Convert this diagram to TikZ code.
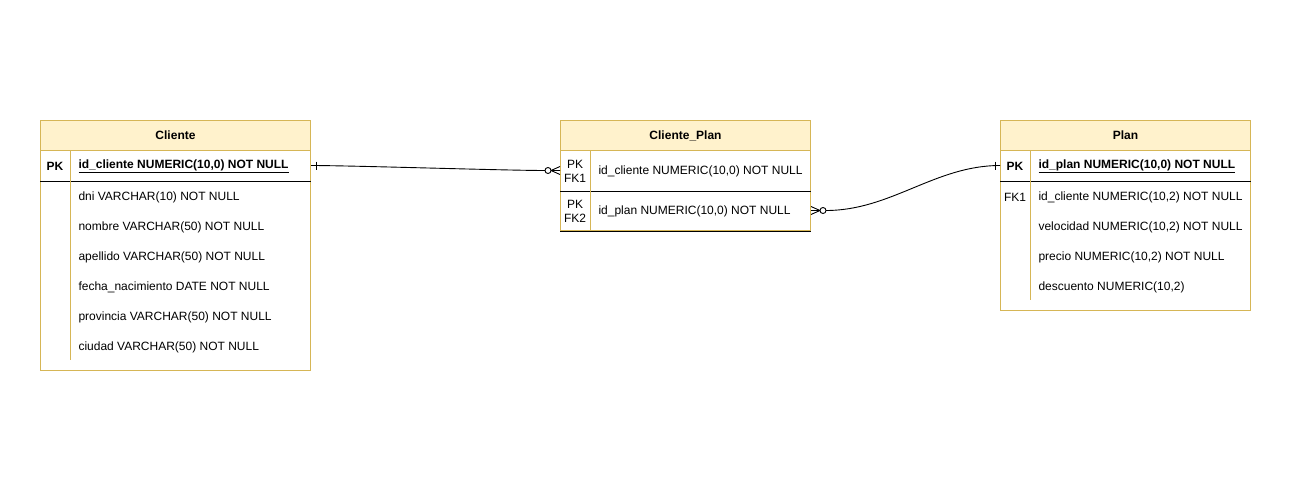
\documentclass[tikz,border=0pt]{standalone}
\usepackage{fontspec}
\setmainfont{Liberation Sans}
\usetikzlibrary{calc}
\definecolor{hdrfill}{HTML}{FFF2CC}
\definecolor{gold}{HTML}{D6B656}
\begin{document}
\begin{tikzpicture}[x=1pt,y=-1pt, line width=1pt,
  tbl/.style={draw=gold, fill=white, rectangle, inner sep=0pt, anchor=north west},
  hdr/.style={draw=gold, fill=hdrfill, rectangle, inner sep=0pt, anchor=north west, minimum height=30pt, font=\fontsize{12}{14}\selectfont\bfseries},
  rowbox/.style={rectangle, inner sep=0pt, anchor=north west},
  fld/.style={anchor=west, inner sep=0pt, yshift=-1pt, font=\fontsize{12}{14}\selectfont},
  fldb/.style={anchor=west, inner sep=0pt, yshift=-1pt, font=\fontsize{12}{14}\selectfont\bfseries},
  keyt/.style={anchor=center, inner sep=0pt, yshift=-1pt, align=center, font=\fontsize{12}{14}\selectfont},
  keyb/.style={anchor=center, inner sep=0pt, yshift=-1pt, align=center, font=\fontsize{12}{14}\selectfont\bfseries},
  sepline/.style={draw=black},
  divline/.style={draw=gold},
  rel/.style={draw=black, line width=0.9pt}
]
\useasboundingbox (0,0) rectangle (1300,500);

% ---------- Cliente ----------
\node[tbl, minimum width=270pt, minimum height=250pt] (cliente) at (40,120) {};
\node[hdr, minimum width=270pt] (clienteH) at (40,120) {Cliente};
\node[rowbox, minimum width=270pt, minimum height=30pt] (clPK) at (40,150) {};
\draw[sepline] (clPK.south west) -- (clPK.south east);
\draw[divline] (70,150) -- (70,360);
\node[keyb] (clPKk) at (55,165) {PK};
\node[fldb] (clPKf) at (78,165) {\underline{id\_cliente NUMERIC(10,0) NOT NULL}};
\node[fld] (clF1) at (78,196) {dni VARCHAR(10) NOT NULL};
\node[fld] (clF2) at (78,226) {nombre VARCHAR(50) NOT NULL};
\node[fld] (clF3) at (78,256) {apellido VARCHAR(50) NOT NULL};
\node[fld] (clF4) at (78,286) {fecha\_nacimiento DATE NOT NULL};
\node[fld] (clF5) at (78,316) {provincia VARCHAR(50) NOT NULL};
\node[fld] (clF6) at (78,346) {ciudad VARCHAR(50) NOT NULL};

% ---------- Cliente_Plan ----------
\node[tbl, minimum width=250pt, minimum height=110pt] (cp) at (560,120) {};
\node[hdr, minimum width=250pt] (cpH) at (560,120) {Cliente\_Plan};
\node[rowbox, minimum width=250pt, minimum height=40pt] (cpR1) at (560,150) {};
\node[rowbox, minimum width=250pt, minimum height=40pt] (cpR2) at (560,190) {};
\draw[sepline] (cpR1.south west) -- (cpR1.south east);
\draw[sepline] (cpR2.south west) -- (cpR2.south east);
\draw[divline] (590,150) -- (590,229.5);
\node[keyt] (cpK1) at (575,170) {PK\\FK1};
\node[fld] (cpF1) at (598,170) {id\_cliente NUMERIC(10,0) NOT NULL};
\node[keyt] (cpK2) at (575,210) {PK\\FK2};
\node[fld] (cpF2) at (598,210) {id\_plan NUMERIC(10,0) NOT NULL};

% ---------- Plan ----------
\node[tbl, minimum width=250pt, minimum height=190pt] (plan) at (1000,120) {};
\node[hdr, minimum width=250pt] (planH) at (1000,120) {Plan};
\node[rowbox, minimum width=250pt, minimum height=30pt] (plPK) at (1000,150) {};
\draw[sepline] (plPK.south west) -- (plPK.south east);
\draw[divline] (1030,150) -- (1030,300);
\node[keyb] (plPKk) at (1015,165) {PK};
\node[fldb] (plPKf) at (1038,165) {\underline{id\_plan NUMERIC(10,0) NOT NULL}};
\node[keyt] (plK1) at (1015,196) {FK1};
\node[fld] (plF1) at (1038,196) {id\_cliente NUMERIC(10,2) NOT NULL};
\node[fld] (plF2) at (1038,226) {velocidad NUMERIC(10,2) NOT NULL};
\node[fld] (plF3) at (1038,256) {precio NUMERIC(10,2) NOT NULL};
\node[fld] (plF4) at (1038,286) {descuento NUMERIC(10,2)};

% ---------- Relation Cliente -> Cliente_Plan ----------
\draw[rel] (clPK.east) .. controls +(40,0) and +(-40,0) .. ($(cpR1.west)+(-15,0)$);
\draw[rel] ($(clPK.east)+(5,-4)$) -- ++(0,8);
\draw[rel] ($(cpR1.west)+(-12,0)$) circle (3);
\draw[rel] ($(cpR1.west)+(-9,0)$) -- (cpR1.west)
           ($(cpR1.west)+(-9,0)$) -- ($(cpR1.west)+(0,-4)$)
           ($(cpR1.west)+(-9,0)$) -- ($(cpR1.west)+(0,4)$);

% ---------- Relation Cliente_Plan -> Plan ----------
\draw[rel] ($(cpR2.east)+(15,0)$) .. controls +(65,0) and +(-65,0) .. (plPK.west);
\draw[rel] ($(plPK.west)+(-5,-4)$) -- ++(0,8);
\draw[rel] ($(cpR2.east)+(12,0)$) circle (3);
\draw[rel] ($(cpR2.east)+(9,0)$) -- (cpR2.east)
           ($(cpR2.east)+(9,0)$) -- ($(cpR2.east)+(0,-4)$)
           ($(cpR2.east)+(9,0)$) -- ($(cpR2.east)+(0,4)$);
\end{tikzpicture}
\end{document}
